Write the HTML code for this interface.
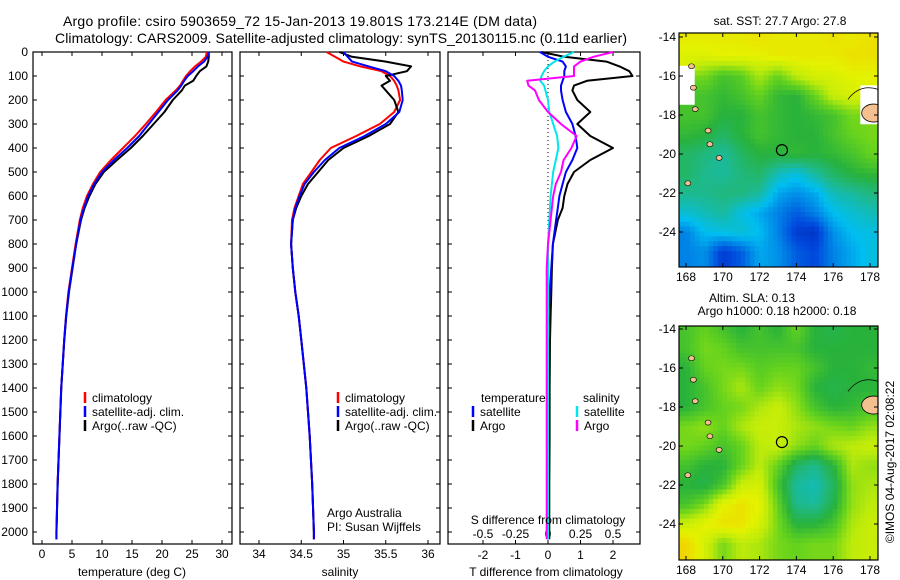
<!DOCTYPE html>
<html><head><meta charset="utf-8"><style>
html,body{margin:0;padding:0;background:#fff;}
svg{display:block;font-family:"Liberation Sans",sans-serif;}
</style></head><body>
<svg id="c" width="900" height="580" viewBox="0 0 900 580" xmlns="http://www.w3.org/2000/svg">
<defs>
<clipPath id="cm1"><rect x="679" y="33" width="199" height="234"/></clipPath>
<clipPath id="cm2"><rect x="679" y="326" width="199" height="234"/></clipPath>
</defs>
<text x="300" y="26" font-size="14" text-anchor="middle" textLength="474">Argo profile: csiro 5903659_72 15-Jan-2013 19.801S 173.214E (DM data)</text>
<text x="341" y="43" font-size="14" text-anchor="middle" textLength="572">Climatology: CARS2009. Satellite-adjusted climatology: synTS_20130115.nc (0.11d earlier)</text>
</svg>
<script>
// ---- profile data ----
const depths=[0,20,40,60,80,100,120,140,160,200,250,300,350,400,450,500,550,600,650,700,800,900,1000,1100,1200,1400,1600,1800,2000,2030];
const tempClim=[27.5,27.3,26.5,25.5,24.7,24,23.5,23,22.3,20.6,19,17.3,15.5,13.5,11.5,9.7,8.5,7.5,6.8,6.3,5.6,5,4.4,4.0,3.7,3.2,2.9,2.6,2.4,2.4];
const tempSat=[27.8,27.6,27,26,25.2,24.3,23.7,23.2,22.6,21,19.4,17.8,16.2,14.2,12,10,8.7,7.7,7,6.4,5.7,5.05,4.45,4.02,3.7,3.2,2.9,2.6,2.4,2.4];
const tempArgo=[27.8,27.8,27.7,27.4,26.3,25.7,25.2,23.8,23.3,21.8,20.4,18.6,16.8,14.8,12.5,10.3,8.9,7.9,7.1,6.5,5.7,5.1,4.5,4.05,3.72,3.22,2.92,2.62,2.42,2.42];
const salClim=[34.8,34.9,35.0,35.2,35.45,35.55,35.6,35.63,35.65,35.67,35.6,35.43,35.15,34.85,34.72,34.62,34.52,34.47,34.42,34.39,34.38,34.4,34.43,34.47,34.5,34.56,34.6,34.63,34.65,34.65];
const salSat=[35.0,35.05,35.1,35.3,35.5,35.6,35.65,35.68,35.69,35.7,35.66,35.5,35.25,34.95,34.78,34.65,34.54,34.48,34.43,34.4,34.38,34.4,34.43,34.47,34.5,34.56,34.6,34.63,34.65,34.65];
const salArgo=[34.95,35.1,35.5,35.8,35.75,35.5,35.55,35.45,35.5,35.6,35.65,35.55,35.3,35.0,34.82,34.7,34.58,34.5,34.44,34.4,34.38,34.4,34.43,34.47,34.5,34.56,34.6,34.63,34.65,34.65];
const tDiffSat=[-0.25,0.0,0.45,0.55,0.5,0.5,0.45,0.4,0.4,0.45,0.55,0.75,0.85,0.9,0.75,0.55,0.45,0.35,0.3,0.25,0.15,0.1,0.05,0.02,0,-0.02,0,0,0,0];
const tDiffArgo=[-0.2,0.5,1.8,2.2,2.5,2.6,1.2,0.8,0.75,0.9,1.3,0.9,1.3,2.0,1.3,0.8,0.6,0.5,0.45,0.3,0.15,0.12,0.1,0.08,0.06,0.05,0.05,0.04,0.04,0.04];
const sDiffSat=[0.2,0.12,0.05,0.0,-0.03,-0.05,-0.06,-0.03,-0.02,0,0.01,0.04,0.07,0.08,0.06,0.04,0.03,0.02,0.015,0.01,0,0,0,0,0,0,0,0,0,0];
const sDiffArgo=[0.5,0.35,0.25,0.2,0.2,0.2,-0.16,-0.15,-0.1,-0.07,0.0,0.1,0.22,0.18,0.12,0.1,0.06,0.04,0.03,0.02,0,-0.01,-0.01,-0.01,-0.01,-0.01,-0.01,-0.01,-0.01,-0.01];
const depthTicks=[0,100,200,300,400,500,600,700,800,900,1000,1100,1200,1300,1400,1500,1600,1700,1800,1900,2000];
const tempTicks=[0,5,10,15,20,25,30];
const salTicks=[34,34.5,35,35.5,36];
const tDiffTicks=[-2,-1,0,1,2];
const sDiffTicks=[-0.5,-0.25,0,0.25,0.5];
// ---- map data (rows lat -14..-25, cols lon 168..178), colour index 0..1, -1 = no data ----
const mapLons=[168,169,170,171,172,173,174,175,176,177,178];
const mapLats=[-14,-15,-16,-17,-18,-19,-20,-21,-22,-23,-24,-25];
const sstGrid=[
[.8,.8,.8,.8,.82,.8,.8,.8,.82,.8,.82],
[.76,.76,.78,.78,.78,.8,.8,.8,.8,.82,.82],
[-1,.62,.55,.58,.68,.6,.7,.75,.75,.78,.78],
[-1,.55,.52,.55,.6,.52,.5,.6,.72,.75,-1],
[.55,.55,.5,.5,.55,.52,.5,.52,.55,.62,-1],
[.52,.5,.45,.5,.55,.52,.5,.5,.55,.6,.62],
[.45,.42,.38,.45,.5,.5,.52,.5,.52,.55,.6],
[.45,.4,.38,.42,.45,.35,.3,.38,.45,.5,.52],
[.4,.4,.42,.42,.38,.25,.22,.25,.35,.38,.42],
[.32,.35,.38,.3,.25,.2,.15,.2,.28,.32,.35],
[.2,.28,.3,.32,.28,.2,.1,.08,.22,.28,.3],
[.2,.22,.1,.15,.25,.22,.15,.12,.2,.25,.3]];
const slaGrid=[
[.55,.6,.55,.5,.55,.5,.6,.5,.48,.5,.5],
[.55,.62,.6,.55,.55,.55,.55,.5,.5,.5,.5],
[.5,.6,.62,.62,.58,.6,.6,.55,.5,.5,.52],
[.5,.55,.62,.68,.6,.65,.62,.5,.48,.5,.5],
[.5,.55,.6,.62,.68,.72,.65,.55,.5,.52,.55],
[.62,.65,.6,.68,.72,.72,.68,.65,.62,.6,.65],
[.62,.6,.55,.6,.7,.72,.65,.6,.68,.7,.72],
[.55,.5,.5,.6,.7,.6,.45,.4,.5,.68,.65],
[.5,.48,.55,.72,.75,.55,.38,.35,.45,.65,.68],
[.55,.62,.78,.82,.78,.6,.4,.38,.48,.65,.7],
[.72,.78,.82,.82,.75,.62,.5,.5,.55,.68,.72],
[.85,.75,.62,.7,.68,.62,.6,.62,.62,.7,.72]];
const lonTicks=[168,170,172,174,176,178];
const latTicks=[-14,-16,-18,-20,-22,-24];
const floatLon=173.214, floatLat=-19.801;

const svg=document.getElementById('c');
const NS='http://www.w3.org/2000/svg';
function mk(tag,attrs,parent){const e=document.createElementNS(NS,tag);for(const k in attrs)e.setAttribute(k,attrs[k]);(parent||svg).appendChild(e);return e;}
function txt(x,y,s,size,anchor,parent){const e=mk('text',{x:x,y:y,'font-size':size,'text-anchor':anchor||'middle'},parent);e.textContent=s;return e;}

const TOP=52, PXM=0.24, BOT=544;
const yD=d=>TOP+d*PXM;
const xT=v=>42+v*6;
const xS=v=>259+(v-34)*84.5;
const xTD=v=>548+v*32.5;
const xSD=v=>548+v*130;

function frame(x0,x1,name){
  const g=mk('g',{});
  
  
  mk('rect',{x:x0,y:TOP,width:x1-x0,height:BOT-TOP,fill:'#fff',stroke:'#000','stroke-width':1.2},g);
  depthTicks.forEach(d=>{const y=yD(d);mk('line',{x1:x0,y1:y,x2:x0+4,y2:y,stroke:'#000'},g);mk('line',{x1:x1-4,y1:y,x2:x1,y2:y,stroke:'#000'},g);});
  return g;
}
function xticks(g,ticks,fx,labY){
  ticks.forEach(t=>{const x=fx(t);
    mk('line',{x1:x,y1:TOP,x2:x,y2:TOP+4,stroke:'#000'},g);
    mk('line',{x1:x,y1:BOT-4,x2:x,y2:BOT,stroke:'#000'},g);
    const e=txt(x,labY,String(t),12,'middle',g);
    
    
  });
}
function series(g,vals,fx,color,w,name){
  const pts=depths.map((d,i)=>fx(vals[i]).toFixed(1)+','+yD(d).toFixed(1)).join(' ');
  const p=mk('polyline',{points:pts,fill:'none',stroke:color,'stroke-width':w,'stroke-linejoin':'round'},g);
  
  
}
function legend(g,x,y,color,label,name){
  mk('line',{x1:x,y1:y-10,x2:x,y2:y+1,stroke:color,'stroke-width':2.5},g);
  const t=txt(x+7,y,label,12,'start',g);
  
  
}

depthTicks.forEach(d=>{const e=txt(28,yD(d)+4,String(d),12,'end');
  
  });

// Panel 1 temperature
const g1=frame(33,232,'temperature-panel');
xticks(g1,tempTicks,xT,558);
series(g1,tempClim,xT,'#ff0000',2,'temp-climatology-line');
series(g1,tempArgo,xT,'#000',2,'temp-argo-line');
series(g1,tempSat,xT,'#0000ff',2,'temp-satellite-line');
legend(g1,85,402,'#ff0000','climatology','legend-climatology');
legend(g1,85,416,'#0000ff','satellite-adj. clim.','legend-satellite');
legend(g1,85,430,'#000','Argo(..raw -QC)','legend-argo');
let at=txt(132,576,'temperature (deg C)',12);



// Panel 2 salinity
const g2=frame(240,440,'salinity-panel');
xticks(g2,salTicks,xS,558);
series(g2,salClim,xS,'#ff0000',2,'sal-climatology-line');
series(g2,salArgo,xS,'#000',2,'sal-argo-line');
series(g2,salSat,xS,'#0000ff',2,'sal-satellite-line');
legend(g2,338,402,'#ff0000','climatology','legend-climatology-2');
legend(g2,338,416,'#0000ff','satellite-adj. clim.','legend-satellite-2');
legend(g2,338,430,'#000','Argo(..raw -QC)','legend-argo-2');
let a2=txt(327,517,'Argo Australia',12,'start',g2);


let a3=txt(327,531,'PI: Susan Wijffels',12,'start',g2);


at=txt(340,576,'salinity',12);



// Panel 3 differences
const g3=frame(448,640,'difference-panel');
tDiffTicks.forEach(t=>{const x=xTD(t);mk('line',{x1:x,y1:BOT-4,x2:x,y2:BOT,stroke:'#000'},g3);
  const e=txt(x,559,String(t),12,'middle',g3);
  
  });
sDiffTicks.forEach(t=>{const x=xSD(t);mk('line',{x1:x,y1:TOP,x2:x,y2:TOP+4,stroke:'#000'},g3);
  const e=txt(x,538,String(t),12,'middle',g3);
  
  });
mk('line',{x1:548,y1:TOP,x2:548,y2:BOT,stroke:'#000','stroke-dasharray':'1,3'},g3);
series(g3,tDiffArgo,xTD,'#000',2,'t-diff-argo-line');
series(g3,tDiffSat,xTD,'#0000ff',2,'t-diff-satellite-line');
series(g3,sDiffSat,xSD,'#00e5ee',2,'s-diff-satellite-line');
series(g3,sDiffArgo,xSD,'#ff00ff',2,'s-diff-argo-line');
let lt=txt(481,402,'temperature',12,'start',g3);
let ls=txt(583,402,'salinity',12,'start',g3);
legend(g3,473,416,'#0000ff','satellite','legend-t-satellite');
legend(g3,473,430,'#000','Argo','legend-t-argo');
legend(g3,577,416,'#00e5ee','satellite','legend-s-satellite');
legend(g3,577,430,'#ff00ff','Argo','legend-s-argo');
let sd=txt(548,524,'S difference from climatology',12,'middle',g3);
at=txt(546,576,'T difference from climatology',12);



// ---- maps ----
const stops=[[0,[0,20,150]],[0.12,[0,70,220]],[0.28,[0,190,240]],[0.4,[30,185,140]],[0.5,[40,178,60]],[0.6,[100,210,30]],[0.7,[190,235,10]],[0.78,[228,242,0]],[0.88,[245,200,0]],[1,[245,150,0]]];
function cmap(v){for(let i=1;i<stops.length;i++){if(v<=stops[i][0]){const a=stops[i-1],b=stops[i],f=(v-a[0])/(b[0]-a[0]);
  const c=a[1].map((x,k)=>Math.round(x+(b[1][k]-x)*f));return 'rgb('+c.join(',')+')';}}return 'rgb(245,150,0)';}
function sample(grid,fr,fc){
  const R=grid.length-1,C=grid[0].length-1;
  fr=Math.max(0,Math.min(R,fr));fc=Math.max(0,Math.min(C,fc));
  const r0=Math.floor(fr),c0=Math.floor(fc),r1=Math.min(R,r0+1),c1=Math.min(C,c0+1),dr=fr-r0,dc=fc-c0;
  const near=grid[Math.round(fr)][Math.round(fc)];
  if(near<0)return -1;
  const vals=[[grid[r0][c0],(1-dr)*(1-dc)],[grid[r0][c1],(1-dr)*dc],[grid[r1][c0],dr*(1-dc)],[grid[r1][c1],dr*dc]];
  let s=0,w=0;vals.forEach(p=>{if(p[0]>=0){s+=p[0]*p[1];w+=p[1];}});
  return w>0?s/w:-1;
}
function drawMap(top,lat14y,grid,clip,name){
  const xL=lon=>686+(lon-168)*18.4, yL=lat=>lat14y+(-14-lat)*19.5;
  const g=mk('g',{});
  
  
  const cg=mk('g',{'clip-path':'url(#'+clip+')'},g);
  const step=0.25;
  for(let lat=-13.6;lat>-26.2;lat-=step){
    for(let lon=167.6;lon<178.9;lon+=step){
      const v=sample(grid,(-14-lat),(lon-168));
      const cell=mk('rect',{x:xL(lon-step/2).toFixed(1),y:yL(lat+step/2).toFixed(1),width:(18.4*step+0.6).toFixed(1),height:(19.5*step+0.6).toFixed(1),fill:v<0?'#fff':cmap(v)},cg);
      
      
    }
  }
  mk('ellipse',{cx:xL(178.2),cy:yL(-17.9),rx:12,ry:9,fill:'#f4c090',stroke:'#000','stroke-width':0.8},cg);
  mk('path',{d:'M'+xL(176.8)+' '+yL(-17.2)+' q12 -16 30 -10',fill:'none',stroke:'#000','stroke-width':0.7},cg);
  [[168.3,-15.5],[168.4,-16.6],[168.5,-17.7],[169.2,-18.8],[169.3,-19.5],[169.8,-20.2],[168.1,-21.5]].forEach(p=>{
    mk('ellipse',{cx:xL(p[0]),cy:yL(p[1]),rx:3,ry:2.5,fill:'#f4c090',stroke:'#000','stroke-width':0.6},cg);});
  mk('rect',{x:679,y:top,width:199,height:234,fill:'none',stroke:'#000','stroke-width':1.2},g);
  lonTicks.forEach(l=>{const x=xL(l);mk('line',{x1:x,y1:top,x2:x,y2:top+4,stroke:'#000'},g);mk('line',{x1:x,y1:top+234,x2:x,y2:top+230,stroke:'#000'},g);
    const e=txt(x,top+248,String(l),12,'middle',g);});
  latTicks.forEach(l=>{const y=yL(l);mk('line',{x1:679,y1:y,x2:683,y2:y,stroke:'#000'},g);mk('line',{x1:874,y1:y,x2:878,y2:y,stroke:'#000'},g);
    const e=txt(676,y+4,String(l),12,'end',g);});
  const m=mk('circle',{cx:xL(floatLon),cy:yL(floatLat),r:5.5,fill:'none',stroke:'#000','stroke-width':1.2},g);
  
  
}
drawMap(33,37,sstGrid,'cm1','sst-map');
drawMap(326,329,slaGrid,'cm2','sla-map');
let m1=txt(780,25,'sat. SST: 27.7 Argo: 27.8',12);
let m2=txt(752,302,'Altim. SLA: 0.13',12);
let m3=txt(777,315,'Argo h1000: 0.18 h2000: 0.18',12);
let cp=txt(0,0,'©IMOS 04-Aug-2017 02:08:22',12,'middle');
cp.setAttribute('transform','translate(894,462) rotate(-90)');


</script>
</body></html>
